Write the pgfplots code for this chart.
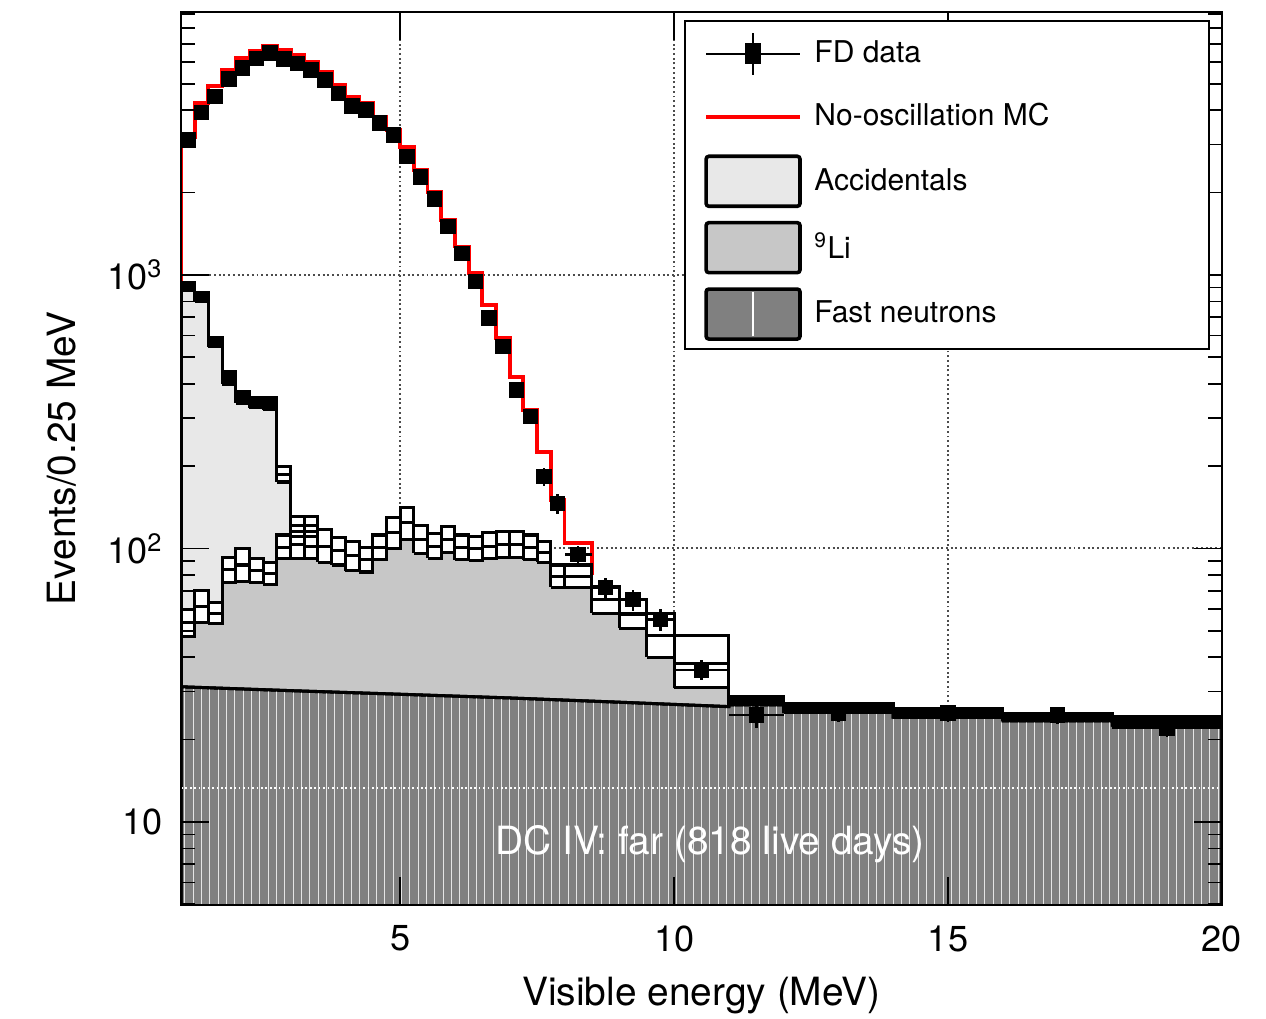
\documentclass[border=0pt]{standalone}
\usepackage{pgfplots}
\pgfplotsset{compat=1.18}
\usepackage{fontspec}
\setmainfont{TeX Gyre Heros}
\usetikzlibrary{patterns}
\definecolor{accgray}{gray}{0.91}
\definecolor{ligray}{gray}{0.78}
\definecolor{fngray}{gray}{0.50}
\begin{document}
\begin{tikzpicture}
\begin{axis}[
  scale only axis, width=374.76pt, height=321.48pt,
  xmin=1, xmax=20, ymode=log, ymin=4.97, ymax=9150,
  xtick={5,10,15,20}, xticklabels={5,10,15,20},
  ytick={10,100,1000}, yticklabels={10,10\textsuperscript{2},10\textsuperscript{3}},
  minor ytick={5,6,7,8,9,20,30,40,50,60,70,80,90,200,300,400,500,600,700,800,900,2000,3000,4000,5000,6000,7000,8000,9000},
  tick align=inside, major tick length=10pt, minor tick length=5pt,
  tick style={black, line width=0.6pt},
  axis line style={line width=0.8pt},
  axis on top,
  ticklabel style={font=\fontsize{13}{15}\selectfont},
  xticklabel style={yshift=-4pt},
  yticklabel style={xshift=-3pt},
  xlabel={Visible energy (MeV)}, ylabel={Events/0.25 MeV},
  label style={font=\fontsize{14}{16}\selectfont},
  xlabel style={at={(axis description cs:0.5,-0.1015)}, anchor=center},
  ylabel style={at={(axis description cs:-0.1143,0.5)}, anchor=center},
  legend style={at={(axis description cs:0.9885,0.991)}, anchor=north east, draw=black, line width=0.8pt, fill=white, font=\fontsize{10.8}{13}\selectfont, inner xsep=7pt, inner ysep=2.8pt, row sep=4.6pt, column sep=2.5pt},
  legend cell align=left,
]
% legend
\addlegendimage{legend image code/.code={
  \path[draw=none,fill=none] (0pt,-9pt) rectangle (34pt,9pt);
  \draw[black,line width=0.9pt] (0pt,0pt)--(33.8pt,0pt);
  \draw[black,line width=0.9pt] (16.9pt,-7.5pt)--(16.9pt,7.5pt);
  \fill[black] (14.4pt,-3.4pt) rectangle (19.4pt,3.4pt);}}
\addlegendentry{\makebox[133pt][l]{FD data}}
\addlegendimage{legend image code/.code={
  \path[draw=none,fill=none] (0pt,-9pt) rectangle (34pt,9pt);
  \draw[red,line width=1.4pt] (0pt,0pt)--(33.8pt,0pt);}}
\addlegendentry{No-oscillation MC}
\addlegendimage{legend image code/.code={
  \draw[black,line width=1.3pt,fill=accgray,rounded corners=1pt] (0pt,-9pt) rectangle (33.8pt,9pt);}}
\addlegendentry{Accidentals}
\addlegendimage{legend image code/.code={
  \draw[black,line width=1.3pt,fill=ligray,rounded corners=1pt] (0pt,-9pt) rectangle (33.8pt,9pt);}}
\addlegendentry{\textsuperscript{9}Li}
\addlegendimage{legend image code/.code={
  \draw[black,line width=1.3pt,fill=fngray,rounded corners=1pt] (0pt,-9pt) rectangle (33.8pt,9pt);
  \draw[white,line width=0.5pt] (16.9pt,-8pt)--(16.9pt,8pt);}}
\addlegendentry{Fast neutrons}

% grid
\addplot[black!70, densely dotted, line width=0.7pt, forget plot] coordinates {(5,4.97) (5,9150)};
\addplot[black!70, densely dotted, line width=0.7pt, forget plot] coordinates {(10,4.97) (10,9150)};
\addplot[black!70, densely dotted, line width=0.7pt, forget plot] coordinates {(15,4.97) (15,9150)};
\addplot[black!70, densely dotted, line width=0.7pt, forget plot] coordinates {(1,100) (20,100)};
\addplot[black!70, densely dotted, line width=0.7pt, forget plot] coordinates {(1,1000) (20,1000)};

% total stack (accidentals on top)
\addplot[const plot, draw=black, line width=1.1pt, fill=accgray, forget plot] coordinates {
(1,906) (1.25,830) (1.5,567) (1.75,420) (2,357) (2.25,341) (2.5,338) (2.75,187) (3,121) (3.25,121)
(3.5,102) (3.75,98) (4,94) (4.25,91) (4.5,101) (4.75,114) (5,124) (5.25,108) (5.5,102) (5.75,108)
(6,101) (6.25,100) (6.5,102) (6.75,103) (7,103) (7.25,101) (7.5,97) (7.75,79) (8,79) (8.5,65)
(9,57.6) (9.5,48) (10,38) (11,27.7) (12,26.2) (14,25) (16,24.2) (18,23.4) (20,23.4)} \closedcycle;

% 9Li + FN
\addplot[const plot, draw=black, line width=1.1pt, fill=ligray, forget plot] coordinates {
(1,53.5) (1.25,61.5) (1.5,58) (1.75,83.5) (2,87) (2.25,83) (2.5,81) (2.75,101) (3,103) (3.25,102)
(3.5,102) (3.75,98) (4,94) (4.25,91) (4.5,101) (4.75,114) (5,124) (5.25,108) (5.5,102) (5.75,108)
(6,101) (6.25,100) (6.5,102) (6.75,103) (7,103) (7.25,101) (7.5,97) (7.75,79) (8,79) (8.5,65)
(9,57.6) (9.5,48) (10,38) (11,26.8) (12,25.3) (14,24.2) (16,23.4) (18,22.6) (20,22.6)} \closedcycle;

% fast neutrons
\addplot[draw=black, line width=1.1pt, fill=fngray, postaction={pattern=vertical lines, pattern color=black!10}, forget plot] coordinates {
(1,31.2) (3,30.2) (5,29.3) (7,28.4) (9,27.4) (11,26.4) (11,26.8) (12,26.8) (12,25.3) (14,25.3)
(14,24.2) (16,24.2) (16,23.4) (18,23.4) (18,22.6) (20,22.6)} \closedcycle;
\addplot[white, densely dotted, line width=0.6pt, forget plot] coordinates {(1,13.3) (20,13.3)};

% no-oscillation MC
\addplot[const plot, red, line width=1.4pt, forget plot] coordinates {
(1,906) (1,3200) (1.25,4250) (1.5,4910) (1.75,5600) (2,6200) (2.25,6600) (2.5,6870) (2.75,6650)
(3,6370) (3.25,6030) (3.5,5540) (3.75,4960) (4,4470) (4.25,4250) (4.5,3795) (4.75,3390)
(5,2945) (5.25,2422) (5.5,2017) (5.75,1589) (6,1270) (6.25,1014) (6.5,777) (6.75,587)
(7,425) (7.25,321) (7.5,226) (7.75,150) (8,105) (8.5,80)};

% error boxes (white)
\addplot[draw=black, line width=1.1pt, fill=white, unbounded coords=jump, forget plot] table {
x y
1.00 47.5
1.25 47.5
1.25 60
1.00 60
1.00 47.5
nan nan
1.25 53.5
1.50 53.5
1.50 70
1.25 70
1.25 53.5
nan nan
1.50 53
1.75 53
1.75 63.5
1.50 63.5
1.50 53
nan nan
1.75 75
2.00 75
2.00 93
1.75 93
1.75 75
nan nan
2.00 76
2.25 76
2.25 100
2.00 100
2.00 76
nan nan
2.25 75
2.50 75
2.50 92
2.25 92
2.25 75
nan nan
2.50 74
2.75 74
2.75 88.5
2.50 88.5
2.50 74
nan nan
2.75 92
3.00 92
3.00 112
2.75 112
2.75 92
nan nan
3.00 92
3.25 92
3.25 115
3.00 115
3.00 92
nan nan
3.25 92
3.50 92
3.50 115
3.25 115
3.25 92
nan nan
2.75 175
3.00 175
3.00 200
2.75 200
2.75 175
nan nan
3.00 111
3.25 111
3.25 131
3.00 131
3.00 111
nan nan
3.25 111
3.50 111
3.50 131
3.25 131
3.25 111
nan nan
3.50 89
3.75 89
3.75 117
3.50 117
3.50 89
nan nan
3.75 87
4.00 87
4.00 110
3.75 110
3.75 87
nan nan
4.00 83
4.25 83
4.25 106
4.00 106
4.00 83
nan nan
4.25 82
4.50 82
4.50 101
4.25 101
4.25 82
nan nan
4.50 91
4.75 91
4.75 112
4.50 112
4.50 91
nan nan
4.75 100
5.00 100
5.00 130
4.75 130
4.75 100
nan nan
5.00 108
5.25 108
5.25 141
5.00 141
5.00 108
nan nan
5.25 96
5.50 96
5.50 121
5.25 121
5.25 96
nan nan
5.50 92
5.75 92
5.75 113
5.50 113
5.50 92
nan nan
5.75 97
6.00 97
6.00 120
5.75 120
5.75 97
nan nan
6.00 91
6.25 91
6.25 112
6.00 112
6.00 91
nan nan
6.25 90
6.50 90
6.50 111
6.25 111
6.25 90
nan nan
6.50 92
6.75 92
6.75 114
6.50 114
6.50 92
nan nan
6.75 93
7.00 93
7.00 115
6.75 115
6.75 93
nan nan
7.00 93
7.25 93
7.25 115
7.00 115
7.00 93
nan nan
7.25 91
7.50 91
7.50 112
7.25 112
7.25 91
nan nan
7.50 89
7.75 89
7.75 106
7.50 106
7.50 89
nan nan
7.75 72
8.00 72
8.00 87
7.75 87
7.75 72
nan nan
8.00 72
8.50 72
8.50 87
8.00 87
8.00 72
nan nan
8.50 58
9.00 58
9.00 72.6
8.50 72.6
8.50 58
nan nan
9.00 51
9.50 51
9.50 65
9.00 65
9.00 51
nan nan
9.50 40
10.0 40
10.0 58
9.50 58
9.50 40
nan nan
10.0 31
11.0 31
11.0 48
10.0 48
10.0 31
};

% centre lines of the boxes
\addplot[draw=black, line width=1.1pt, unbounded coords=jump, forget plot] table {
x y
1.00 53.5
1.25 53.5
nan nan
1.25 61.5
1.50 61.5
nan nan
1.50 58
1.75 58
nan nan
1.75 83.5
2.00 83.5
nan nan
2.00 87
2.25 87
nan nan
2.25 83
2.50 83
nan nan
2.50 81
2.75 81
nan nan
2.75 101
3.00 101
nan nan
3.00 103
3.25 103
nan nan
3.25 102
3.50 102
nan nan
2.75 187
3.00 187
nan nan
3.00 121
3.25 121
nan nan
3.25 121
3.50 121
nan nan
3.50 102
3.75 102
nan nan
3.75 98
4.00 98
nan nan
4.00 94
4.25 94
nan nan
4.25 91
4.50 91
nan nan
4.50 101
4.75 101
nan nan
4.75 114
5.00 114
nan nan
5.00 124
5.25 124
nan nan
5.25 108
5.50 108
nan nan
5.50 102
5.75 102
nan nan
5.75 108
6.00 108
nan nan
6.00 101
6.25 101
nan nan
6.25 100
6.50 100
nan nan
6.50 102
6.75 102
nan nan
6.75 103
7.00 103
nan nan
7.00 103
7.25 103
nan nan
7.25 101
7.50 101
nan nan
7.50 97
7.75 97
nan nan
7.75 79
8.00 79
nan nan
8.00 79
8.50 79
nan nan
8.50 65
9.00 65
nan nan
9.00 57.6
9.50 57.6
nan nan
9.50 48
10.0 48
nan nan
10.0 38
11.0 38
};

% narrow error boxes (solid)
\addplot[draw=black, line width=1.1pt, fill=black, unbounded coords=jump, forget plot] table {
x y
1.00 877
1.25 877
1.25 937
1.00 937
1.00 877
nan nan
1.25 800
1.50 800
1.50 861
1.25 861
1.25 800
nan nan
1.50 546
1.75 546
1.75 589
1.50 589
1.50 546
nan nan
1.75 398
2.00 398
2.00 443
1.75 443
1.75 398
nan nan
2.00 340
2.25 340
2.25 374
2.00 374
2.00 340
nan nan
2.25 327
2.50 327
2.50 355
2.25 355
2.25 327
nan nan
2.50 322
2.75 322
2.75 355
2.50 355
2.50 322
nan nan
11 26.8
12 26.8
12 28.7
11 28.7
11 26.8
nan nan
12 25.3
14 25.3
14 27.2
12 27.2
12 25.3
nan nan
14 24.2
16 24.2
16 26.0
14 26.0
14 24.2
nan nan
16 23.4
18 23.4
18 25.0
16 25.0
16 23.4
nan nan
18 22.6
20 22.6
20 24.3
18 24.3
18 22.6
};

% FD data
\addplot[black, only marks, mark=square*, mark size=2.6pt, forget plot,
  error bars/.cd, x dir=both, x explicit, y dir=both, y explicit,
  error bar style={line width=0.9pt, black}, error mark=none]
table[x=x, y=y, x error=ex, y error=ey] {
x y ex ey
1.125 3118 0.125 56
1.375 3920 0.125 63
1.625 4490 0.125 67
1.875 5195 0.125 72
2.125 5697 0.125 75
2.375 6194 0.125 79
2.625 6470 0.125 80
2.875 6150 0.125 78
3.125 5940 0.125 77
3.375 5620 0.125 75
3.625 5165 0.125 72
3.875 4610 0.125 68
4.125 4150 0.125 64
4.375 4010 0.125 63
4.625 3586 0.125 60
4.875 3252 0.125 57
5.125 2708 0.125 52
5.375 2277 0.125 48
5.625 1896 0.125 44
5.875 1502 0.125 39
6.125 1200 0.125 35
6.375 946 0.125 31
6.625 695 0.125 26
6.875 547 0.125 23
7.125 380 0.125 19
7.375 304 0.125 17
7.625 183 0.125 14
7.875 146 0.125 12
8.25 95 0.25 7
8.75 72 0.25 6
9.25 65 0.25 5.7
9.75 55 0.25 5.2
10.5 36 0.5 3
11.5 24.6 0.5 2.5
13 25.0 1 1.8
15 25.0 1 1.8
17 24.6 1 1.75
19 22.1 1 1.7
};

\node[white, font=\fontsize{14}{16}\selectfont] at (axis cs:10.66,8.3) {DC IV: far (818 live days)};
\end{axis}
\pgfresetboundingbox
\path ([shift={(-65.16pt,-41.04pt)}]current axis.south west) rectangle ([shift={(15.84pt,4.32pt)}]current axis.north east);
\end{tikzpicture}
\end{document}
